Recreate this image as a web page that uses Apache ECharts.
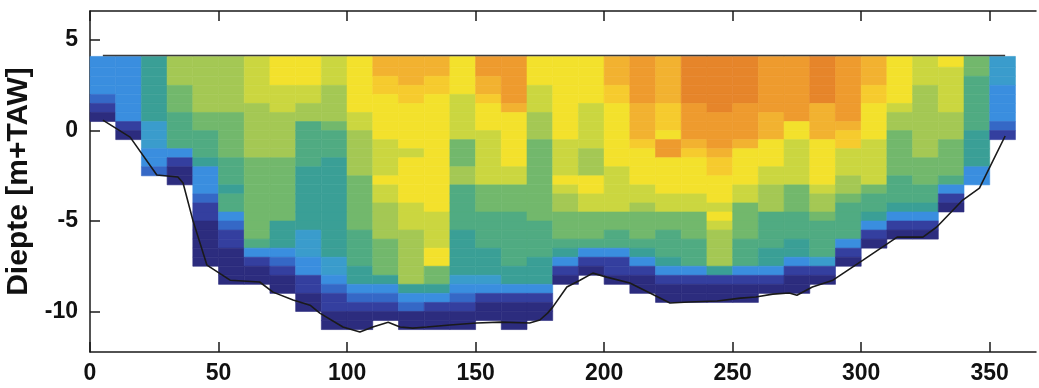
<!DOCTYPE html>
<html>
<head>
<meta charset="utf-8">
<title>Diepte profiel</title>
<script src="https://cdn.jsdelivr.net/npm/echarts@6/dist/echarts.min.js"></script>
<style>
  html, body { margin: 0; padding: 0; background: #fff; }
  #chart { width: 1039px; height: 388px; }
</style>
</head>
<body>
<div id="chart"></div>
<script>
// kolommen: start van elke kolom langs het profiel (m)
const distances = [0, 10, 20, 30, 40, 50, 60, 70, 80, 90, 100, 110, 120, 130, 140, 150, 160, 170,
  180, 190, 200, 210, 220, 230, 240, 250, 260, 270, 280, 290, 300, 310, 320, 330, 340, 350]

// klasse per cel (hex 0..e), van boven (+4 m) naar beneden in stappen van 0.5 m
const levels = [
  '3333210',
  '333333310',
  '5555555444332',
  '88877766663100',
  '88888877666533321100000',
  '8888887777766656632110000',
  '9999988888877777777763100',
  'aaa99988888777777755532100',
  'aaa9988666665555555444331100',
  '999888876665555555555544321100',
  'aaaaaa998888877777766665532100',
  'ccbbaaaaa9999a998888777753210',
  'cccbbaaaaa9aaaaa99988888853200',
  'ccbbaaaaaaaaaaaaa9999aa7753100',
  'aaaa99999777886666655555432100',
  'ddccbaaa999999777666655543100',
  'dddddcaaaaaa997776666665531000',
  'aaa99988877777777766665553100',
  'aaaaaaaaa9999a98877765310',
  'aaaaa99999888aa997776310',
  'cccbbaaaaaaa9999977663110',
  'dddddccccbaaaa998777653100',
  'cccccbbbaddaaaa997766653100',
  'eeeeeddddcbaaaa997776663100',
  'eeeeeeddddcbbaaa9a988885100',
  'eeeeeddddcaaaa9977776663100',
  'ddddddcccaaa99888666655310',
  'dddddddaa99999777666553100',
  'eeeeeccccaaaaa98876666410',
  'dddddddcbb9998876666310',
  'cccbbaaaa999997665310',
  'aaaaa988777776665310',
  '99988888888777665310',
  'a9999988877776310',
  '77666666555533',
  '444333321'
]

// bodemlijn
const bedX = [5, 15.6, 26, 34.2, 36.2, 40, 45.5, 54.5, 66, 71.2, 79, 85.6, 89.4, 98.4, 105, 110,
  116, 120.6, 125.6, 131, 140, 150.5, 159.5, 171, 175, 178, 180, 185.5, 190.6, 195.6, 201, 210,
  217.8, 225.6, 233, 244, 253, 259, 265.6, 272, 275, 281, 289, 300.7, 314, 324, 329.4, 339.5, 346, 356]
const bedY = [0.58, -0.36, -2.46, -2.57, -2.9, -4.95, -7.44, -8.27, -8.37, -8.93, -9.37, -9.65, -10.09,
  -10.86, -11.14, -10.86, -10.59, -10.86, -10.92, -10.86, -10.75, -10.64, -10.59, -10.64, -10.47,
  -10.09, -9.76, -8.65, -8.27, -7.88, -8.1, -8.43, -8.98, -9.53, -9.48, -9.42, -9.26, -9.2, -9.04,
  -8.98, -9.1, -8.65, -8.27, -7.16, -5.89, -5.89, -5.33, -3.84, -3.18, -0.3]

// waterlijn
const waterX = [5, 356]
const waterY = [4.15, 4.15]

const xTicks = [0, 50, 100, 150, 200, 250, 300, 350]
const yTicks = [-10, -5, 0, 5]

const colWidth = 10
const rowHeight = 0.5
const gridTop = 4.0
const surface = 4.1

const palette = ['#2c2c7e', '#343f9f', '#3568c6', '#3a8edf', '#3a9ccc', '#3a9f96', '#50ab82',
  '#72b86c', '#a4c854', '#cbd640', '#f3e12c', '#f6cb2e', '#f2b230', '#ee9b2e', '#e6852a']

// cellen opbouwen
const cells = []
levels.forEach((col, i) => {
  const x0 = distances[i]
  for (let k = 0; k < col.length; k++) {
    const yTop = k === 0 ? surface : gridTop - k * rowHeight
    const yBot = gridTop - (k + 1) * rowHeight
    cells.push([x0, x0 + colWidth, yTop, yBot, parseInt(col[k], 16)])
  }
})

const fontFamily = '"Liberation Sans", Arial, sans-serif'
const axisColor = '#1a1a1a'

const chart = echarts.init(document.getElementById('chart'))

const option = {
  animation: false,
  grid: { left: 90, right: 3, top: 11, bottom: 36, outerBoundsMode: 'none' },
  visualMap: {
    type: 'continuous',
    show: false,
    seriesIndex: 0,
    dimension: 4,
    min: 0,
    max: 14,
    inRange: { color: palette }
  },
  xAxis: [
    {
      type: 'value',
      min: 0,
      max: 368,
      position: 'bottom',
      splitLine: { show: false },
      axisLine: { show: true, onZero: false, lineStyle: { color: axisColor, width: 1.5 } },
      axisTick: { show: true, inside: true, length: 10, customValues: xTicks, lineStyle: { color: axisColor, width: 1.5 } },
      axisLabel: { customValues: xTicks, fontSize: 23, fontWeight: 'bold', color: '#111', fontFamily, margin: 10 }
    },
    {
      type: 'value',
      min: 0,
      max: 368,
      position: 'top',
      splitLine: { show: false },
      axisLine: { show: true, onZero: false, lineStyle: { color: axisColor, width: 1.5 } },
      axisTick: { show: true, inside: true, length: 10, customValues: xTicks, lineStyle: { color: axisColor, width: 1.5 } },
      axisLabel: { show: false }
    }
  ],
  yAxis: [
    {
      type: 'value',
      min: -12.24,
      max: 6.61,
      name: 'Diepte [m+TAW]',
      nameLocation: 'middle',
      nameRotate: 90,
      nameGap: 52,
      nameTextStyle: { fontSize: 30, fontWeight: 'bold', color: '#111', fontFamily },
      splitLine: { show: false },
      axisLine: { show: true, onZero: false, lineStyle: { color: axisColor, width: 1.5 } },
      axisTick: { show: true, inside: true, length: 10, customValues: yTicks, lineStyle: { color: axisColor, width: 1.5 } },
      axisLabel: { customValues: yTicks, fontSize: 23, fontWeight: 'bold', color: '#111', fontFamily, margin: 12 }
    }
  ],
  series: [
    {
      name: 'cellen',
      type: 'custom',
      data: cells,
      encode: { x: [0, 1], y: [2, 3] },
      z: 1,
      renderItem: (params, api) => {
        const p0 = api.coord([api.value(0), api.value(2)])
        const p1 = api.coord([api.value(1), api.value(3)])
        const color = api.visual('color')
        return {
          type: 'rect',
          shape: { x: p0[0], y: p0[1], width: p1[0] - p0[0], height: p1[1] - p0[1] },
          style: { fill: color, stroke: color, lineWidth: 0.6 }
        }
      }
    },
    {
      name: 'bodem',
      type: 'line',
      data: bedX.map((x, i) => [x, bedY[i]]),
      symbol: 'none',
      z: 3,
      lineStyle: { color: '#1a1a1a', width: 1.6 }
    },
    {
      name: 'water',
      type: 'line',
      data: waterX.map((x, i) => [x, waterY[i]]),
      symbol: 'none',
      z: 3,
      lineStyle: { color: '#3a3a3a', width: 1.5 }
    }
  ]
}

chart.setOption(option)
</script>
</body>
</html>
